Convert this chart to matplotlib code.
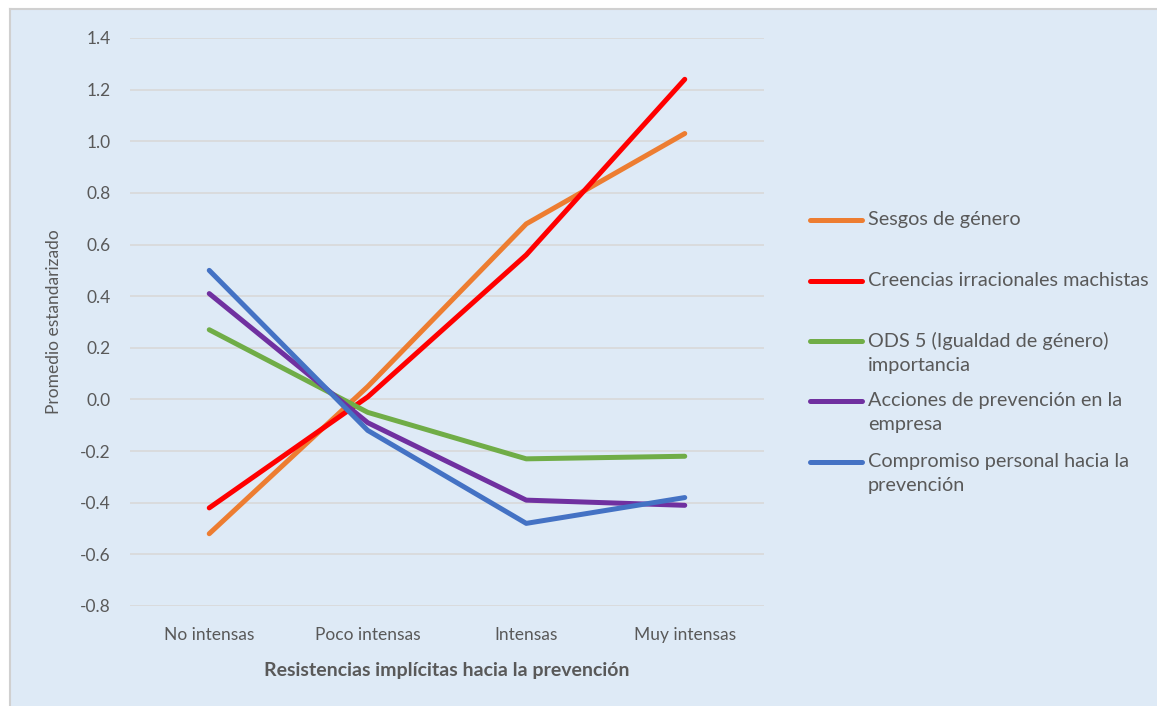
import matplotlib
matplotlib.use("Agg")
import matplotlib.pyplot as plt
from matplotlib.lines import Line2D
from matplotlib.patches import Rectangle

plt.rcParams['font.family'] = ['Lato', 'DejaVu Sans']

categories = ["No intensas", "Poco intensas", "Intensas", "Muy intensas"]

sesgos = [-0.52, 0.05, 0.68, 1.03]
creencias = [-0.42, 0.01, 0.56, 1.24]
ods5 = [0.27, -0.05, -0.23, -0.22]
acciones = [0.41, -0.09, -0.39, -0.41]
compromiso = [0.50, -0.12, -0.48, -0.38]

series_labels = [
    "Sesgos de género",
    "Creencias irracionales machistas",
    "ODS 5 (Igualdad de género)\nimportancia",
    "Acciones de prevención en la\nempresa",
    "Compromiso personal hacia la\nprevención",
]
series_values = [sesgos, creencias, ods5, acciones, compromiso]
colors = ["#ED7D31", "#FF0000", "#70AD47", "#7030A0", "#4472C4"]

y_ticks = [-0.8, -0.6, -0.4, -0.2, 0.0, 0.2, 0.4, 0.6, 0.8, 1.0, 1.2, 1.4]

BG = "#DEEAF6"
TXT = "#595959"
W, H = 1157, 706
LW = 3.6

fig = plt.figure(figsize=(W / 100, H / 100), dpi=100)
fig.patch.set_facecolor("white")

# chart area panel with a thin border on top and left
panel = Rectangle((10 / W, 0), 1 - 10 / W, 1 - 9 / H, transform=fig.transFigure,
                  facecolor=BG, edgecolor="none", zorder=0)
fig.add_artist(panel)
fig.add_artist(Line2D([10 / W, 1], [1 - 9 / H, 1 - 9 / H], transform=fig.transFigure,
                      color="#D0D0D0", lw=1.5))
fig.add_artist(Line2D([10 / W, 10 / W], [0, 1 - 9 / H], transform=fig.transFigure,
                      color="#D0D0D0", lw=1.5))

ax = fig.add_axes([130 / W, 1 - 606 / H, (764 - 130) / W, (606 - 38) / H])
ax.set_facecolor("none")

x = list(range(len(categories)))
for vals, col, lab in zip(series_values, colors, series_labels):
    ax.plot(x, vals, color=col, lw=LW, solid_capstyle="round",
            solid_joinstyle="round", label=lab, zorder=3)

ax.set_xlim(-0.5, len(categories) - 0.5)
ax.set_ylim(-0.8, 1.4)
ax.set_yticks(y_ticks)
ax.set_yticklabels([f"{v:.1f}" for v in y_ticks])
ax.set_xticks(x)
ax.set_xticklabels(categories)
ax.grid(axis="y", color="#D9D9D9", lw=1.2, zorder=1)
ax.tick_params(axis="both", length=0, colors=TXT, labelsize=12.5)
ax.tick_params(axis="y", pad=14)
ax.tick_params(axis="x", pad=15)
for s in ax.spines.values():
    s.set_visible(False)

ax.set_ylabel("Promedio estandarizado", color=TXT, fontsize=12.5, labelpad=13)
ax.set_xlabel("Resistencias implícitas hacia la prevención", color=TXT,
              fontsize=14, fontweight="bold", labelpad=14)

# legend drawn at the right of the plot
leg_y = [220, 281, 341, 401, 462]
for yy, col, lab in zip(leg_y, colors, series_labels):
    fy = 1 - yy / H
    fig.add_artist(Line2D([810 / W, 862 / W], [fy, fy], transform=fig.transFigure,
                          color=col, lw=LW, solid_capstyle="round"))
    fig.text(868 / W, fy + 9 / H, lab, color=TXT, fontsize=14.3, va="top",
             ha="left", linespacing=1.5)

fig.savefig("out.png", dpi=100)
